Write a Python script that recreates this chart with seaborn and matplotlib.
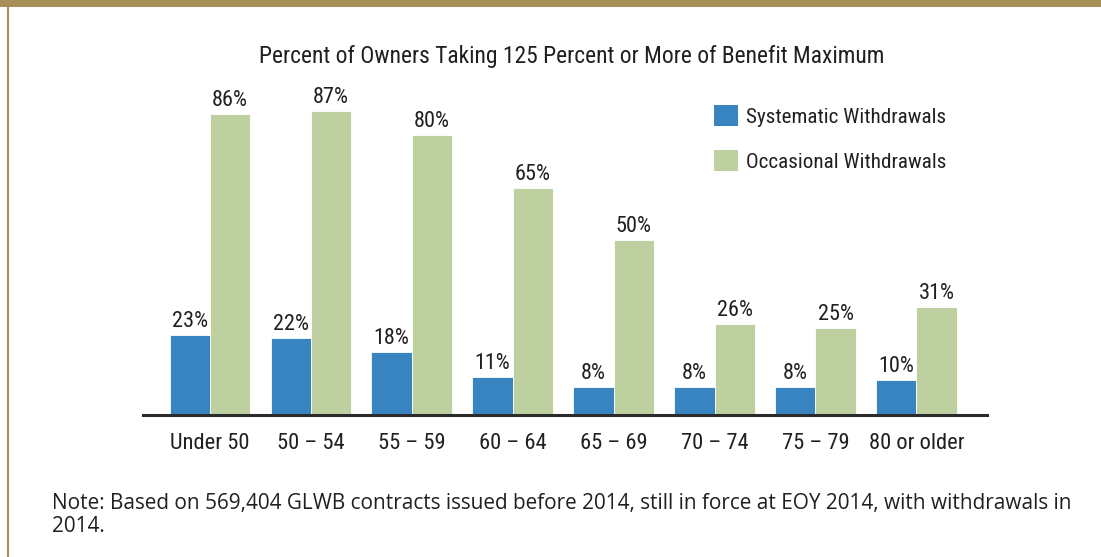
import matplotlib
matplotlib.use("Agg")
import matplotlib.pyplot as plt
import seaborn as sns
import pandas as pd
from matplotlib import font_manager as fm
from matplotlib.patches import Rectangle, Patch
from matplotlib.lines import Line2D

# ---- data ----
age_groups = ["Under 50", "50 \u2013 54", "55 \u2013 59", "60 \u2013 64",
              "65 \u2013 69", "70 \u2013 74", "75 \u2013 79", "80 or older"]
systematic = [23, 22, 18, 11, 8, 8, 8, 10]
occasional = [86, 87, 80, 65, 50, 26, 25, 31]
series_names = ["Systematic Withdrawals", "Occasional Withdrawals"]
title_text = "Percent of Owners Taking 125 Percent or More of Benefit Maximum"
note_lines = ["Note: Based on 569,404 GLWB contracts issued before 2014, still in force at EOY 2014, with withdrawals in",
              "2014."]

BLUE = "#3784c0"
GREEN = "#bfd0a0"
GOLD = "#a89058"
TEXT = "#231f20"

sns.set_theme(style="white")

names = {f.name for f in fm.fontManager.ttflist}
narrow = "DejaVu Sans"
for cand in ["Roboto Condensed", "Liberation Sans Narrow", "Open Sans Condensed", "DejaVu Sans Condensed"]:
    if cand in names:
        narrow = cand
        break
plt.rcParams["font.family"] = [narrow, "DejaVu Sans"]
note_font = "Open Sans" if "Open Sans" in names else "DejaVu Sans"

df = pd.DataFrame({
    "age": age_groups * 2,
    "pct": systematic + occasional,
    "type": [series_names[0]] * len(age_groups) + [series_names[1]] * len(age_groups),
})

W, H = 1101, 557
fig = plt.figure(figsize=(W / 100, H / 100), dpi=100)
fig.patch.set_facecolor("white")
renderer = fig.canvas.get_renderer()


def fit_width(txt, target_px):
    """Scale font size so the rendered text spans target_px pixels."""
    bb = txt.get_window_extent(renderer=renderer)
    txt.set_fontsize(txt.get_fontsize() * target_px / bb.width)


ax_left, ax_right = 143, 987
ax_bottom, ax_top = 415, 60
ax = fig.add_axes([ax_left / W, 1 - ax_bottom / H, (ax_right - ax_left) / W, (ax_bottom - ax_top) / H])

sns.barplot(data=df, x="age", y="pct", hue="type", palette=[BLUE, GREEN],
            width=0.8, saturation=1, ax=ax, legend=False,
            edgecolor="white", linewidth=0.6)

ax.set_xlim(-0.664, 7.70)
ax.set_ylim(0, (ax_bottom - ax_top) / 3.5)
ax.set_xlabel("")
ax.set_ylabel("")
ax.set_yticks([])
for s in ["top", "right", "left"]:
    ax.spines[s].set_visible(False)
ax.spines["bottom"].set_color("#2b2b2b")
ax.spines["bottom"].set_linewidth(2.2)
ax.tick_params(axis="x", length=0, pad=13, labelsize=16.2, labelcolor=TEXT)

for cont in ax.containers:
    ax.bar_label(cont, labels=[f"{int(v)}%" for v in cont.datavalues],
                 padding=2, fontsize=16, color=TEXT, clip_on=False)

t = fig.text(572 / W, 1 - 56 / H, title_text, ha="center", va="center",
             fontsize=16, color=TEXT)
fit_width(t, 628)

handles = [Patch(facecolor=BLUE, edgecolor="none"), Patch(facecolor=GREEN, edgecolor="none")]
leg = fig.legend(handles, series_names, loc="upper left",
                 bbox_to_anchor=(714 / W, 1 - 105 / H), frameon=False,
                 fontsize=15.2, handlelength=1.13, handleheight=1.13, handletextpad=0.38,
                 labelspacing=1.12, borderpad=0, borderaxespad=0, labelcolor=TEXT)

for i, line in enumerate(note_lines):
    nt = fig.text(52 / W, 1 - (503 + i * 24) / H, line, ha="left", va="center",
                  fontsize=13.5, color=TEXT, family=note_font)
    if i == 0:
        fit_width(nt, 1023)
        note_size = nt.get_fontsize()
    else:
        nt.set_fontsize(note_size)

# frame decoration
fig.patches.append(Rectangle((0, 1 - 7 / H), 1, 7 / H, transform=fig.transFigure,
                             facecolor=GOLD, edgecolor="none", zorder=5))
fig.lines.append(Line2D([7.5 / W, 7.5 / W], [0, 1], transform=fig.transFigure,
                        color=GOLD, linewidth=1.5, zorder=5))

fig.savefig("out.png", dpi=100, facecolor="white")
